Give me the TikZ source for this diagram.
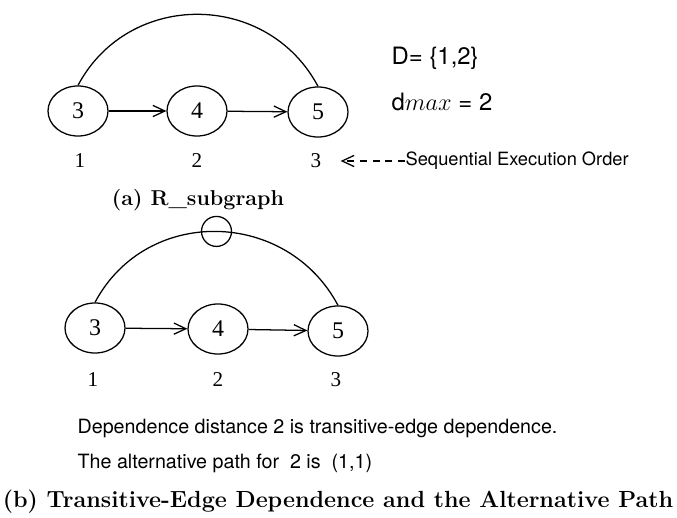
\documentclass[tikz,border=0pt]{standalone}
\usepackage{amsmath,amssymb}
\usepackage{xcolor}
\usepackage{fontspec}
\setsansfont{TeX Gyre Heros}
\newfontfamily\numfont{Liberation Serif}
\usetikzlibrary{arrows.meta,shapes.geometric,positioning}

\begin{document}
\begin{tikzpicture}[x=0.025cm, y=-0.025cm, line width=0.9pt,
	state/.style={draw, ellipse, inner sep=0pt, minimum width=1.5cm, minimum height=1.25cm, font=\numfont\fontsize{17}{20}\selectfont},
	order/.style={font=\numfont\fontsize{15}{18}\selectfont},
	note/.style={anchor=west, inner sep=0pt, font=\sffamily\fontsize{14}{16}\selectfont},
	dist/.style={anchor=west, inner sep=0pt, font=\sffamily\fontsize{17}{20}\selectfont},
	capt/.style={inner sep=0pt, font=\bfseries\fontsize{15.3}{18}\selectfont},
	ring/.style={draw, circle, inner sep=0pt, minimum size=0.75cm},
	edge/.style={-{Straight Barb[length=3mm,width=2.8mm]}}]
		
		\useasboundingbox (0,0) rectangle (677,518);
		
		% (a) graph
		\node[state] (a3) at (78,111) {3};
		\node[state] (a4) at (197,111) {4};
		\node[state] (a5) at (318,112) {5};
		\draw[edge] (a3) -- (a4);
		\draw[edge] (a4) -- (a5);
		\draw (a3.north) to[out=62, in=118, looseness=1.15] (a5.north);
		
		% execution order
		\node[order] (ao1) at (80,161) {1};
		\node[order] (ao2) at (197,161) {2};
		\node[order] (ao3) at (316,161) {3};
		\node[note, font=\sffamily\fontsize{13}{15}\selectfont] (seq) at (405,161) {Sequential Execution Order};
		\draw[edge, dash pattern=on 5pt off 4pt, shorten >=10pt] (seq.west) -- (ao3.east);
		
		% distances
		\node[dist] (dset) at (391,58) {D= \{1,2\}};
		\node[dist] (dmax) at (391,102) {d$max$ = 2};
		
		\node[capt] (capa) at (198,200) {(a) R\_subgraph};
		
		% (b) graph
		\node[state] (b3) at (95,328) {3};
		\node[state] (b4) at (218,329) {4};
		\node[state] (b5) at (338,331) {5};
		\draw[edge] (b3) -- (b4);
		\draw[edge] (b4) -- (b5);
		\draw (b3.north) to[out=62, in=118, looseness=1.15] node[ring, pos=0.5] (hit) {} (b5.north);
		
		\node[order] (bo1) at (93,380) {1};
		\node[order] (bo2) at (218,380) {2};
		\node[order] (bo3) at (336,380) {3};
		
		% remarks
		\node[note] (rem1) at (77,428) {Dependence distance 2 is transitive-edge dependence.};
		\node[note] (rem2) at (77,463) {The alternative path for\ \ 2 is\ \ (1,1)};
		
		\node[capt, font=\bfseries\fontsize{16.6}{19}\selectfont] (capb) at (338,502) {(b) Transitive-Edge Dependence and the Alternative Path};
		
	\end{tikzpicture}
\end{document}
